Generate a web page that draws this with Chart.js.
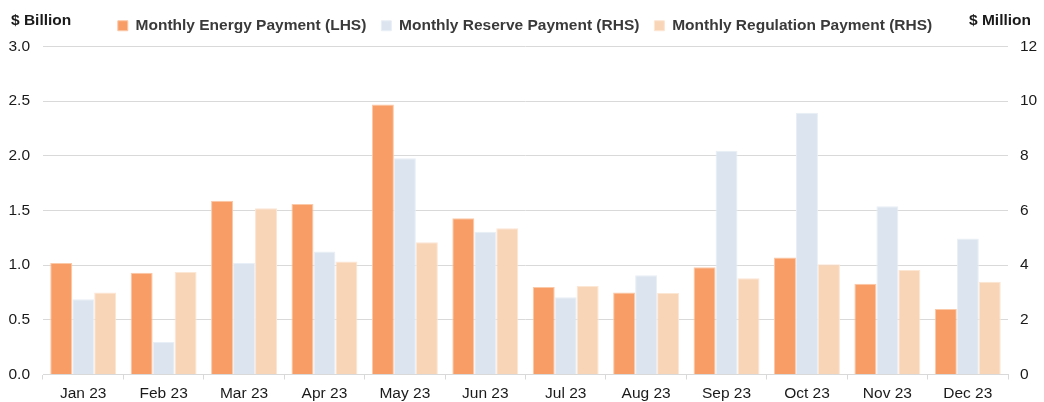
<!DOCTYPE html>
<html lang="en">
<head>
    <meta charset="UTF-8">
    <title>Monthly Payments 2023</title>
    <script src="https://cdn.jsdelivr.net/npm/chart.js@4.4.0/dist/chart.umd.min.js"></script>
    <style>
        html, body { margin: 0; padding: 0; background: #ffffff; }
        #wrap { width: 1044px; height: 402px; position: relative; }
    </style>
</head>
<body>
    <div id="wrap"><canvas id="payChart"></canvas></div>

    <script>
        // Datos
        const months = ['Jan 23', 'Feb 23', 'Mar 23', 'Apr 23', 'May 23', 'Jun 23',
                        'Jul 23', 'Aug 23', 'Sep 23', 'Oct 23', 'Nov 23', 'Dec 23'];
        const energyBn = [1.02, 0.93, 1.59, 1.56, 2.47, 1.43, 0.80, 0.75, 0.98, 1.07, 0.83, 0.60];
        const reserveMn = [2.75, 1.19, 4.08, 4.50, 7.91, 5.22, 2.83, 3.63, 8.19, 9.58, 6.16, 4.98];
        const regulationMn = [3.00, 3.75, 6.08, 4.13, 4.84, 5.35, 3.24, 2.98, 3.52, 4.03, 3.82, 3.39];

        const FONT = "'Liberation Sans', Arial, sans-serif";
        const tickColor = '#1a1a1a';
        const gridColor = '#d9d9d9';

        // titulos de los ejes arriba + ajuste de la altura de la leyenda
        const axisTitles = {
            id: 'axisTitles',
            afterInit(chart) {
                const lg = chart.legend;
                if (lg) {
                    const fit = lg.fit;
                    lg.fit = function () {
                        fit.call(this);
                        this.height += 3;
                    };
                }
            },
            afterDraw(chart) {
                const ctx = chart.ctx;
                ctx.save();
                ctx.font = 'bold 15.5px ' + FONT;
                ctx.fillStyle = '#1a1a1a';
                ctx.textBaseline = 'middle';
                ctx.textAlign = 'left';
                ctx.fillText('$ Billion', 11, 21);
                ctx.textAlign = 'right';
                ctx.fillText('$ Million', 1031, 21);
                ctx.restore();
            }
        };

        new Chart(document.getElementById('payChart'), {
            type: 'bar',
            data: {
                labels: months,
                datasets: [{
                    label: 'Monthly Energy Payment (LHS)',
                    data: energyBn,
                    backgroundColor: '#f79d65',
                    borderColor: '#fbc8a8',
                    borderWidth: 1,
                    yAxisID: 'yL'
                }, {
                    label: 'Monthly Reserve Payment (RHS)',
                    data: reserveMn,
                    backgroundColor: '#dce5ef',
                    borderColor: '#e9eff6',
                    borderWidth: 1,
                    yAxisID: 'yR'
                }, {
                    label: 'Monthly Regulation Payment (RHS)',
                    data: regulationMn,
                    backgroundColor: '#f9d5b7',
                    borderColor: '#fce6d4',
                    borderWidth: 1,
                    yAxisID: 'yR'
                }]
            },
            options: {
                responsive: true,
                maintainAspectRatio: false,
                animation: false,
                layout: { padding: { top: 3, left: 6, right: 0, bottom: 0 } },
                datasets: {
                    bar: { categoryPercentage: 0.82, barPercentage: 1.0 }
                },
                plugins: {
                    legend: {
                        position: 'top',
                        labels: {
                            boxWidth: 10,
                            boxHeight: 10,
                            padding: 15,
                            color: '#3a3a3a',
                            font: { family: FONT, size: 15.5, weight: 'bold' }
                        }
                    },
                    tooltip: { enabled: false }
                },
                scales: {
                    x: {
                        offset: true,
                        afterFit: s => { s.height = 27.5; },
                        grid: {
                            offset: true,
                            drawOnChartArea: false,
                            drawTicks: true,
                            tickLength: 5,
                            color: gridColor
                        },
                        border: { color: gridColor },
                        ticks: {
                            color: tickColor,
                            padding: 5,
                            maxRotation: 0,
                            font: { family: FONT, size: 15.5 }
                        }
                    },
                    yL: {
                        position: 'left',
                        min: 0,
                        max: 3.0,
                        afterFit: s => { s.width = 37; },
                        border: { display: false },
                        grid: { color: gridColor, drawTicks: false },
                        ticks: {
                            stepSize: 0.5,
                            padding: 13,
                            color: tickColor,
                            font: { family: FONT, size: 15.5 },
                            callback: v => v.toFixed(1)
                        }
                    },
                    yR: {
                        position: 'right',
                        min: 0,
                        max: 12,
                        afterFit: s => { s.width = 36; },
                        border: { display: false },
                        grid: { drawOnChartArea: false, drawTicks: false },
                        ticks: {
                            stepSize: 2,
                            padding: 12,
                            color: tickColor,
                            font: { family: FONT, size: 15.5 }
                        }
                    }
                }
            },
            plugins: [axisTitles]
        });
    </script>
</body>
</html>
